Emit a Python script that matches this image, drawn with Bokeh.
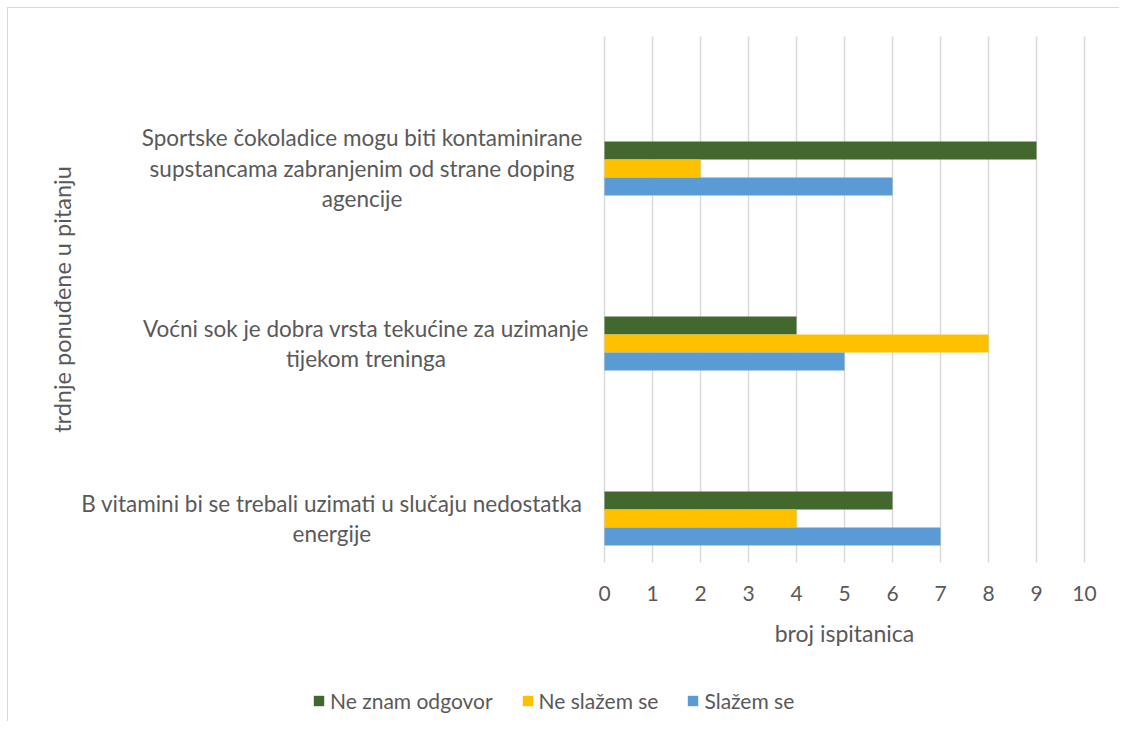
import math
from bokeh.plotting import figure
from bokeh.models import Range1d, Legend, LegendItem, ColumnDataSource
from bokeh.core.properties import value
from bokeh.embed import file_html
from bokeh.resources import INLINE

# ---- data ----
categories = [
    "Sportske čokoladice mogu biti kontaminirane\nsupstancama zabranjenim od strane doping\nagencije",
    "Voćni sok je dobra vrsta tekućine za uzimanje\ntijekom treninga",
    "B vitamini bi se trebali uzimati u slučaju nedostatka\nenergije",
]
series_names = ["Ne znam odgovor", "Ne slažem se", "Slažem se"]
ne_znam = [9, 4, 6]
ne_slazem = [2, 8, 4]
slazem = [6, 5, 7]
x_ticks = [0, 1, 2, 3, 4, 5, 6, 7, 8, 9, 10]
x_title = "broj ispitanica"
y_title = "trdnje ponuđene u pitanju"

# ---- style / layout constants ----
colors = ["#43682E", "#FFC000", "#5B9BD5"]
FONT = "Lato"
TXT = "#595959"
X_MIN, X_MAX = 0, 10            # value axis extent
Y_TOP, Y_BOT = -0.754, 2.251    # plot-area extent (category units, top to bottom)
TICK_Y = 2.429                  # row of value-axis labels
XTITLE_Y = 2.657
YTITLE_X, YTITLE_Y = -11.31, 0.749
label_x = [-5.05, -4.97, -5.68]  # centres of the category label blocks

W, H = 1112, 714
p = figure(
    width=W, height=H,
    x_range=Range1d(-12.4167, 10.75),
    y_range=Range1d(3.166, -0.914),
    output_backend="svg", toolbar_location=None,
    x_axis_location=None, y_axis_location=None,
    min_border_left=0, min_border_right=0, min_border_top=0, min_border_bottom=0,
)
p.outline_line_color = None
p.grid.visible = False

# vertical grid lines at the value ticks
p.segment(x0=x_ticks, x1=x_ticks, y0=[Y_TOP] * len(x_ticks), y1=[Y_BOT] * len(x_ticks),
          line_color="#D9D9D9", line_width=1.5)

ypos = list(range(len(categories)))
bh = 0.1029
offsets = [-bh, 0.0, bh]
series_vals = [ne_znam, ne_slazem, slazem]
renderers = []
for vals, off, col in zip(series_vals, offsets, colors):
    r = p.hbar(y=[y + off for y in ypos], right=vals, left=X_MIN, height=bh,
               fill_color=col, line_color=None)
    renderers.append(r)

# value-axis tick labels
p.text(x=x_ticks, y=[TICK_Y] * len(x_ticks), text=[str(t) for t in x_ticks],
       text_align="center", text_baseline="middle",
       text_font=value(FONT), text_font_size="21px", text_color=TXT)
# value-axis title
p.text(x=[(X_MIN + X_MAX) / 2], y=[XTITLE_Y], text=[x_title],
       text_align="center", text_baseline="middle",
       text_font=value(FONT), text_font_size="23px", text_color=TXT)
# category labels
p.text(x=label_x, y=ypos, text=categories,
       text_align="center", text_baseline="middle", text_line_height=1.13,
       text_font=value(FONT), text_font_size="22.5px", text_color=TXT)
# category-axis title
p.text(x=[YTITLE_X], y=[YTITLE_Y], text=[y_title], angle=math.pi / 2,
       text_align="center", text_baseline="middle",
       text_font=value(FONT), text_font_size="23.5px", text_color=TXT)

legend = Legend(
    items=[LegendItem(label=n, renderers=[r]) for n, r in zip(series_names, renderers)],
    orientation="horizontal", location=(304, 9),
    label_text_font=FONT, label_text_font_size="21px", label_text_color=TXT,
    glyph_width=13, glyph_height=13, spacing=28, label_standoff=5,
    border_line_color=None, background_fill_alpha=0, margin=0, padding=0,
)
p.add_layout(legend, "center")

p.styles = {"margin-left": "7px", "margin-top": "7px",
            "border-top": "1.5px solid #D9D9D9", "border-left": "1.5px solid #D9D9D9"}
open("out.html", "w").write(file_html(p, INLINE))
